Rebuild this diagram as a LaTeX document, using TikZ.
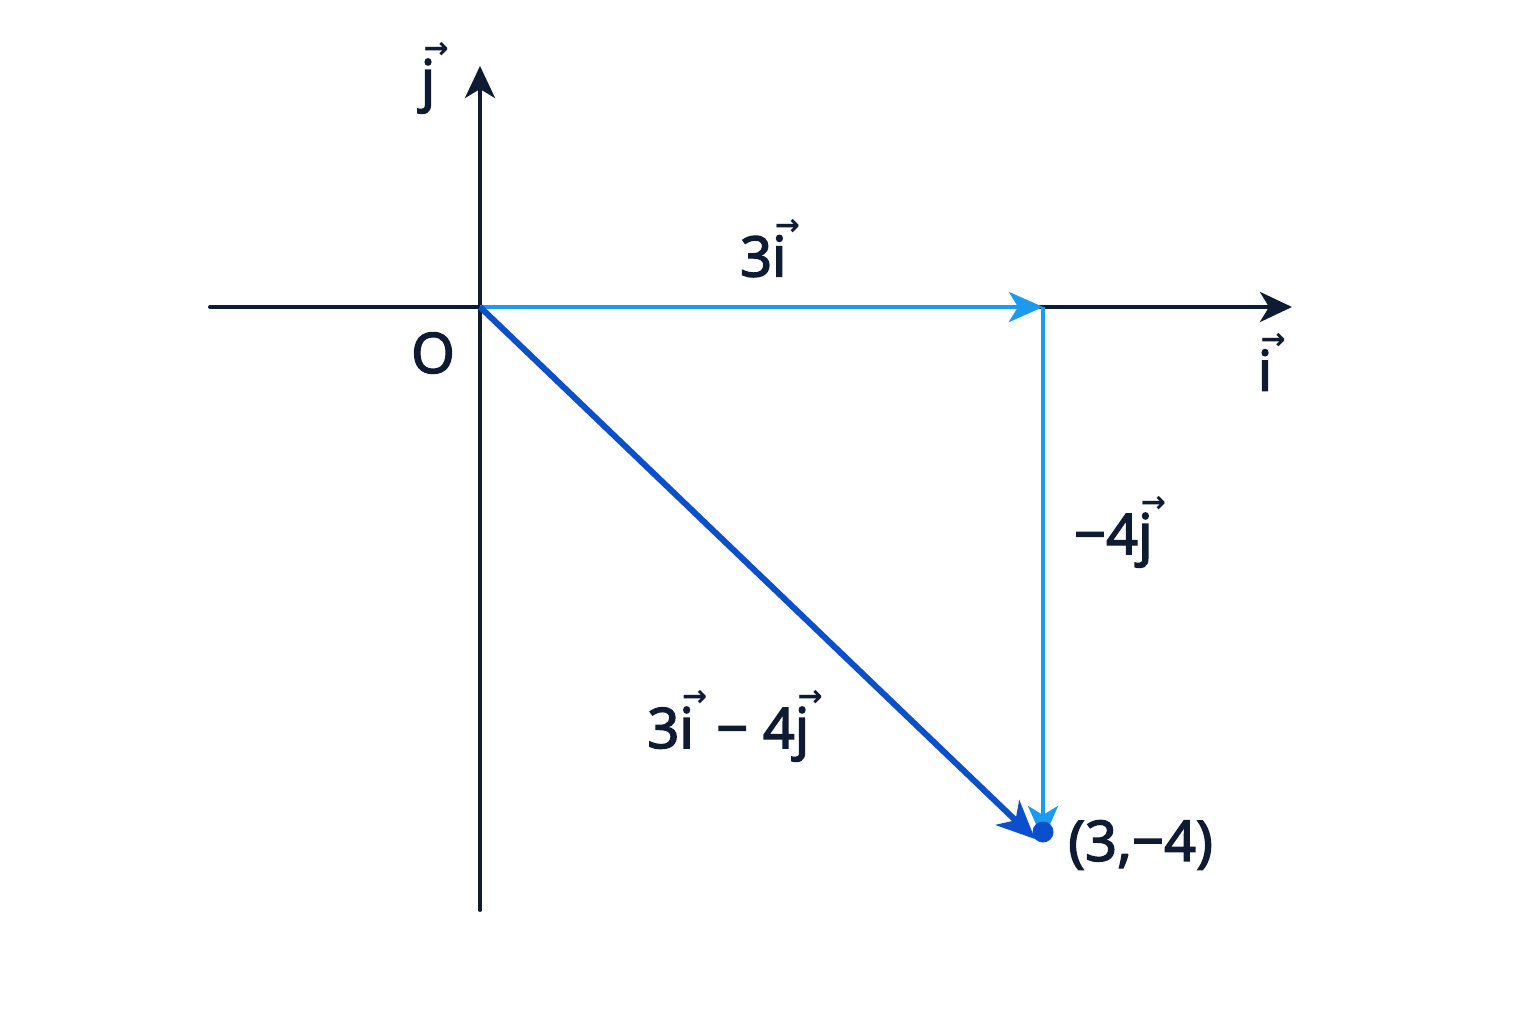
\documentclass[tikz,border=0pt]{standalone}
\usepackage{fontspec}
\setmainfont[FakeBold=2.4]{Noto Sans}
\newfontfamily\arrowfont{DejaVu Sans Bold}
\usetikzlibrary{arrows.meta}

\definecolor{navy}{HTML}{0F1B33}
\definecolor{lightblue}{HTML}{1B9AF0}
\definecolor{darkblue}{HTML}{0B4FCC}

% letter with an arrow above it
\newcommand{\vsym}[1]{\hbox{\rlap{\raisebox{0.74em}{\hspace{0.05em}\arrowfont\fontsize{30}{30}\selectfont →}}#1}}

\tikzset{
  axis/.style={navy, line width=4pt, -{Stealth[length=32pt,width=30pt,inset=9pt]}},
  comp/.style={lightblue, line width=4.5pt, -{Stealth[length=34pt,width=30pt,inset=9pt]}},
  res/.style={darkblue, line width=6pt, -{Stealth[length=38pt,width=34pt,inset=11pt]}},
  lab/.style={navy, font=\fontsize{56}{64}\selectfont, inner sep=0pt}
}

\begin{document}
\begin{tikzpicture}[x=1pt,y=-1pt]
  \useasboundingbox[fill=white] (0,0) rectangle (1536,1024);
  % points
  \coordinate (O) at (480,307);
  \coordinate (xstart) at (210,307);
  \coordinate (xend) at (1292,307);
  \coordinate (ystart) at (480,910);
  \coordinate (yend) at (480,66);
  \coordinate (A) at (1043,307);
  \coordinate (P) at (1043,832);
  % axes
  \draw[axis, line cap=round] (xstart) -- (xend);
  \draw[axis, line cap=round] (ystart) -- (yend);
  % components and resultant
  \draw[comp] (O) -- (A);
  \draw[comp] (A) -- ([yshift=-8pt]P);
  \draw[res] (O) -- ([xshift=-8pt,yshift=-7pt]P);
  \fill[darkblue] (P) circle (10.5pt);
  % labels
  \node[lab] (lj) at (428,78) {\vsym{j}};
  \node[lab] (li) at (1265,362) {\vsym{i}};
  \node[lab] (lO) at (433,353) {O};
  \node[lab] (l3i) at (768,248) {3\vsym{i}\,};
  \node[lab] (l4j) at (1118,532) {−4\vsym{j}\,};
  \node[lab] (lres) at (733,726) {3\vsym{i}\hspace{0.14em} − 4\vsym{j}\,};
  \node[lab, anchor=west] (lP) at (1068,845) {(3,−4)};
\end{tikzpicture}
\end{document}
